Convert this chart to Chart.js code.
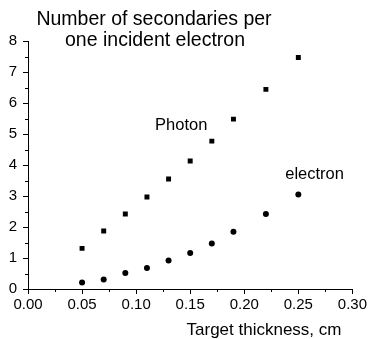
<!DOCTYPE html>
<html>
<head>
<meta charset="utf-8">
<script src="https://cdn.jsdelivr.net/npm/chart.js@4/dist/chart.umd.min.js"></script>
<style>
html, body { margin: 0; padding: 0; background: #fff; }
#wrap { width: 369px; height: 339px; }
</style>
</head>
<body>
<div id="wrap"><canvas id="chart"></canvas></div>
<script>
// data
var thickness = [0.05, 0.07, 0.09, 0.11, 0.13, 0.15, 0.17, 0.19, 0.22, 0.25];
var photonValues = [1.31, 1.87, 2.42, 2.97, 3.55, 4.13, 4.77, 5.48, 6.44, 7.47];
var electronValues = [0.21, 0.31, 0.52, 0.68, 0.92, 1.16, 1.47, 1.85, 2.42, 3.05];
var seriesNames = ['Photon', 'electron'];
var titleLines = ['Number of secondaries per', 'one incident electron'];
var xTitle = 'Target thickness, cm';

var FONT = "'Liberation Sans', Arial, sans-serif";

function toPoints(xs, ys) {
  var pts = [];
  for (var i = 0; i < xs.length; i++) {
    pts.push({ x: xs[i], y: ys[i] });
  }
  return pts;
}

function isMajorX(v) { return Math.round(v * 1000) % 50 === 0; }
function isMajorY(v) { return Number.isInteger(v); }

// short minor ticks (major ones are drawn by chart.js)
var minorTicks = {
  id: 'minorTicks',
  afterDraw: function (chart) {
    var ctx = chart.ctx;
    var xs = chart.scales.x, ys = chart.scales.y;
    var area = chart.chartArea;
    ctx.save();
    ctx.strokeStyle = '#000';
    ctx.lineWidth = 1;
    ctx.beginPath();
    xs.ticks.forEach(function (t) {
      if (isMajorX(t.value)) return;
      var px = Math.round(xs.getPixelForValue(t.value)) + 0.5;
      ctx.moveTo(px, area.bottom);
      ctx.lineTo(px, area.bottom + 3);
    });
    ys.ticks.forEach(function (t) {
      if (isMajorY(t.value)) return;
      var py = Math.round(ys.getPixelForValue(t.value)) + 0.5;
      ctx.moveTo(area.left, py);
      ctx.lineTo(area.left - 3, py);
    });
    ctx.stroke();
    ctx.restore();
  }
};

// draws the title, the series names and the x axis title
var textPlugin = {
  id: 'texts',
  afterDraw: function (chart) {
    var ctx = chart.ctx;
    var xs = chart.scales.x, ys = chart.scales.y;
    ctx.save();
    ctx.fillStyle = '#000';
    ctx.textAlign = 'center';
    ctx.textBaseline = 'middle';

    ctx.font = '19.5px ' + FONT;
    ctx.fillText(titleLines[0], 154, 20);
    ctx.fillText(titleLines[1], 155, 41);

    ctx.font = '16.5px ' + FONT;
    ctx.fillText(seriesNames[0], xs.getPixelForValue(0.1417), ys.getPixelForValue(5.26));
    ctx.fillText(seriesNames[1], xs.getPixelForValue(0.265), ys.getPixelForValue(3.68));

    ctx.font = '17px ' + FONT;
    ctx.fillText(xTitle, 264, 330);
    ctx.restore();
  }
};

var chart = new Chart(document.getElementById('chart'), {
  type: 'scatter',
  data: {
    datasets: [
      {
        label: seriesNames[0],
        data: toPoints(thickness, photonValues),
        pointStyle: 'rect',
        pointRadius: 3.5,
        backgroundColor: '#000',
        borderColor: '#000',
        borderWidth: 0
      },
      {
        label: seriesNames[1],
        data: toPoints(thickness, electronValues),
        pointStyle: 'circle',
        pointRadius: 3,
        backgroundColor: '#000',
        borderColor: '#000',
        borderWidth: 0
      }
    ]
  },
  options: {
    responsive: true,
    maintainAspectRatio: false,
    animation: false,
    layout: { padding: { top: 41, right: 15, left: 0, bottom: 0 } },
    plugins: {
      legend: { display: false },
      tooltip: { enabled: false },
      title: { display: false }
    },
    scales: {
      x: {
        type: 'linear',
        min: 0,
        max: 0.3,
        afterFit: function (s) { s.height = 50; },
        border: { color: '#000', width: 1 },
        grid: {
          drawOnChartArea: false,
          drawTicks: true,
          tickLength: 5,
          color: '#000',
          tickColor: function (c) { return isMajorX(c.tick.value) ? '#000' : 'rgba(0,0,0,0)'; }
        },
        ticks: {
          stepSize: 0.025,
          autoSkip: false,
          maxRotation: 0,
          padding: 2,
          color: '#000',
          font: { family: FONT, size: 15 },
          callback: function (v) { return isMajorX(v) ? v.toFixed(2) : ''; }
        }
      },
      y: {
        type: 'linear',
        min: 0,
        max: 8,
        afterFit: function (s) { s.width = 28; },
        border: { color: '#000', width: 1 },
        grid: {
          drawOnChartArea: false,
          drawTicks: true,
          tickLength: 5,
          color: '#000',
          tickColor: function (c) { return isMajorY(c.tick.value) ? '#000' : 'rgba(0,0,0,0)'; }
        },
        ticks: {
          stepSize: 0.5,
          autoSkip: false,
          padding: 6,
          color: '#000',
          font: { family: FONT, size: 15 },
          callback: function (v) { return isMajorY(v) ? String(v) : ''; }
        }
      }
    }
  },
  plugins: [minorTicks, textPlugin]
});
</script>
</body>
</html>
